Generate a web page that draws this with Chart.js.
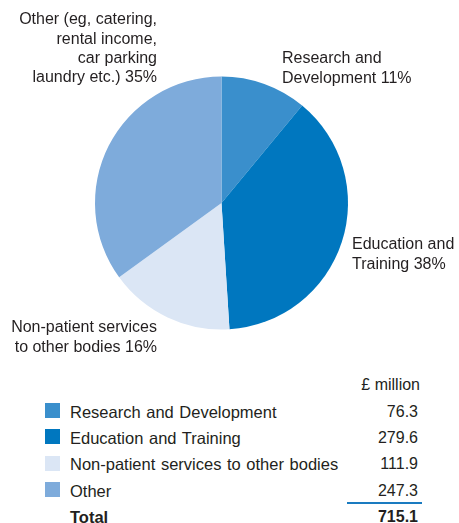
<!DOCTYPE html>
<html>
<head>
<meta charset="utf-8">
<script src="https://cdn.jsdelivr.net/npm/chart.js@4"></script>
<style>
    body { margin: 0; background: #fff; font-family: 'Liberation Sans', Arial, sans-serif; color: #231f20; }
    #wrap { position: relative; width: 459px; height: 523px; overflow: hidden; }
    #pie-box { position: absolute; left: 0; top: 0; width: 459px; height: 370px; }
    .cell { position: absolute; font-size: 16px; line-height: 20px; white-space: nowrap; }
    .name { font-size: 16.5px; word-spacing: 1px; }
    .num { text-align: right; }
    .swatch { position: absolute; width: 15px; height: 15px; }
    .total-line { position: absolute; left: 347px; width: 75px; top: 502px; height: 2px; background: #1a7bc0; }
</style>
</head>
<body>
<div id="wrap">
    <div id="pie-box"><canvas id="incomeChart"></canvas></div>
    <div id="table"></div>
</div>
<script>
// Income categories and values (£ million)
const categories = ['Research and Development', 'Education and Training', 'Non-patient services to other bodies', 'Other'];
const valuesMillion = [76.3, 279.6, 111.9, 247.3];
// Shares as printed on the pie
const sharePercent = [11, 38, 16, 35];
const pieLabels = [
    ['Research and', 'Development 11%'],
    ['Education and', 'Training 38%'],
    ['Non-patient services', 'to other bodies 16%'],
    ['Other (eg, catering,', 'rental income,', 'car parking', 'laundry etc.) 35%']
];
const colours = ['#3a8fcc', '#0077bf', '#dbe6f5', '#7eabdb'];

// Where each label block sits relative to the pie centre
const labelPlacement = [
    { dx: 60.5, dy: -144, align: 'left' },
    { dx: 130.5, dy: 42, align: 'left' },
    { dx: -64.5, dy: 125, align: 'right' },
    { dx: -64.5, dy: -183, align: 'right' }
];

/**
 * Draws the outside text labels of the pie
 */
const outsideLabels = {
    id: 'outsideLabels',
    afterDraw(chart) {
        const arc = chart.getDatasetMeta(0).data[0];
        if (!arc) return;
        const ctx = chart.ctx;
        ctx.save();
        ctx.font = '16px "Liberation Sans", Arial, sans-serif';
        ctx.fillStyle = '#231f20';
        ctx.textBaseline = 'middle';
        pieLabels.forEach((lines, i) => {
            const p = labelPlacement[i];
            ctx.textAlign = p.align;
            lines.forEach((line, j) => {
                ctx.fillText(line, arc.x + p.dx, arc.y + p.dy + j * 19.3);
            });
        });
        ctx.restore();
    }
};

document.addEventListener('DOMContentLoaded', function() {
    new Chart(document.getElementById('incomeChart').getContext('2d'), {
        type: 'pie',
        data: {
            labels: categories,
            datasets: [{
                data: sharePercent,
                backgroundColor: colours,
                borderWidth: 0
            }]
        },
        options: {
            responsive: true,
            maintainAspectRatio: false,
            animation: false,
            layout: { padding: { left: 95, right: 111, top: 76.5, bottom: 40.5 } },
            plugins: {
                legend: { display: false },
                tooltip: { enabled: false }
            }
        },
        plugins: [outsideLabels]
    });

    buildTable();
});

/**
 * Build the legend / value table under the pie
 */
function buildTable() {
    const table = document.getElementById('table');
    const rowTop = 401.5;
    const rowStep = 26.4;

    addCell(table, '£ million', 300, 374.5, 'num', 120);

    categories.forEach((name, i) => {
        const y = rowTop + i * rowStep;
        const sw = document.createElement('div');
        sw.className = 'swatch';
        sw.style.left = '45px';
        sw.style.top = (403 + i * rowStep) + 'px';
        sw.style.background = colours[i];
        table.appendChild(sw);
        addCell(table, name, 70, y, 'name', null);
        addCell(table, valuesMillion[i].toFixed(1), 300, y, 'num', 118);
    });

    const line = document.createElement('div');
    line.className = 'total-line';
    table.appendChild(line);

    const total = valuesMillion.reduce((a, b) => a + b, 0);
    const yTotal = rowTop + 4 * rowStep;
    addCell(table, '<b>Total</b>', 70, yTotal, 'name', null);
    addCell(table, '<b>' + total.toFixed(1) + '</b>', 300, yTotal, 'num', 118);
}

function addCell(parent, html, left, top, cls, width) {
    const el = document.createElement('div');
    el.className = 'cell ' + cls;
    el.style.left = left + 'px';
    el.style.top = top + 'px';
    if (width) el.style.width = width + 'px';
    el.innerHTML = html;
    parent.appendChild(el);
}
</script>
</body>
</html>
